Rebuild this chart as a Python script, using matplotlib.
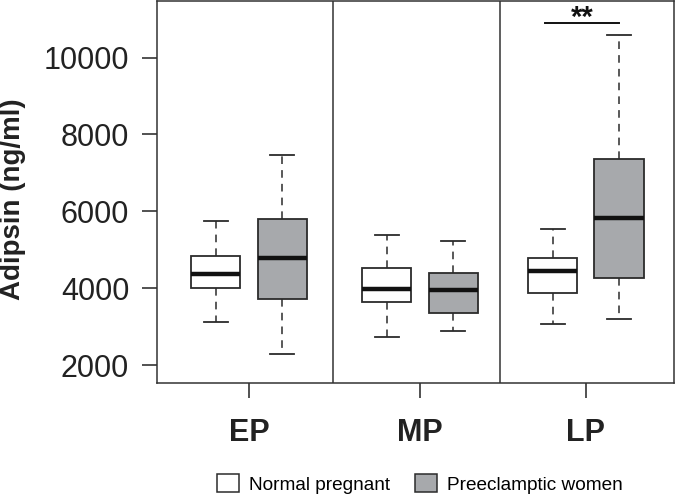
import numpy as np
import matplotlib as mpl
mpl.use('Agg')
from matplotlib import pyplot as plt
from matplotlib.patches import Patch

plt.rcParams['font.family'] = ['Liberation Sans', 'DejaVu Sans']

groups = ['EP', 'MP', 'LP']
group_pos = [1.0, 2.0, 2.97]

# box stats: whislo, q1, med, q3, whishi
normal = [
    [3140, 4004, 4374, 4848, 5754],
    [2743, 3649, 3978, 4537, 5384],
    [3072, 3874, 4460, 4796, 5547],
]
preeclamptic = [
    [2295, 3719, 4796, 5816, 7455],
    [2898, 3372, 3960, 4408, 5228],
    [3201, 4263, 5832, 7359, 10580],
]
series_labels = ['Normal pregnant', 'Preeclamptic women']
series_colors = ['white', '#a7a9ac']
sig_group = 2
sig_text = '**'
sig_y = 10890

def stats( rows , label ) :
    out = []
    for r in rows :
        out.append( { 'whislo' : r[0] , 'q1' : r[1] , 'med' : r[2] , 'q3' : r[3] ,
                      'whishi' : r[4] , 'fliers' : [] , 'label' : label } )
    return out

fig = plt.figure( figsize = ( 6.75 , 4.95 ) , dpi = 100 )
ax = fig.add_axes( [ 157 / 675 , 112 / 495 , 517 / 675 , 382 / 495 ] )

edge = '#2b2b2b'
off = 0.195
for k , ( rows , col ) in enumerate( zip( [ normal , preeclamptic ] , series_colors ) ) :
    pos = [ p + ( -off if k == 0 else off ) for p in group_pos ]
    ax.bxp( stats( rows , series_labels[k] ) , positions = pos , widths = 0.29 ,
            showfliers = False , patch_artist = True ,
            boxprops = dict( facecolor = col , edgecolor = edge , linewidth = 1.3 ) ,
            medianprops = dict( color = '#111111' , linewidth = 3.2 , solid_capstyle = 'butt' ) ,
            whiskerprops = dict( color = edge , linewidth = 1.1 , linestyle = ( 0 , ( 5 , 4 ) ) ) ,
            capprops = dict( color = edge , linewidth = 1.3 ) , capwidths = 0.14 ,
            manage_ticks = False )

# panel dividers
for xd in [ 1.491 , 2.468 ] :
    ax.axvline( xd , color = '#333333' , linewidth = 1.1 )

# significance bar
gx = group_pos[ sig_group ]
ax.plot( [ gx - 0.24 , gx + 0.195 ] , [ sig_y , sig_y ] , color = '#111111' , linewidth = 1.4 )
ax.text( gx - 0.02 , 11020 , sig_text , ha = 'center' , va = 'center' ,
         fontsize = 21 , fontweight = 'bold' , color = '#111111' , clip_on = False )

ax.set_xlim( 0.462 , 3.485 )
ax.set_ylim( 1544 , 11468 )
ax.set_yticks( [ 2000 , 4000 , 6000 , 8000 , 10000 ] )
ax.set_xticks( group_pos )
ax.set_xticklabels( groups , fontsize = 22 , fontweight = 'bold' )
ax.tick_params( axis = 'y' , labelsize = 22 , length = 11 , width = 1.1 , pad = 9 , colors = '#222222' )
ax.tick_params( axis = 'x' , length = 11 , width = 1.1 , pad = 14 , colors = '#222222' )
for s in ax.spines.values() :
    s.set_color( '#333333' )
    s.set_linewidth( 1.1 )

ax.set_ylabel( 'Adipsin (ng/ml)' , fontsize = 20 , fontweight = 'bold' , color = '#222222' )
ax.yaxis.set_label_coords( -0.254 , 0.48 )

handles = [ Patch( facecolor = c , edgecolor = edge , linewidth = 1.1 ) for c in series_colors ]
fig.legend( handles , series_labels , loc = 'center' , bbox_to_anchor = ( 0.622 , 0.022 ) ,
            ncol = 2 , frameon = False , fontsize = 13.7 , handlelength = 1.15 , handleheight = 1.05 ,
            handletextpad = 0.55 , columnspacing = 1.3 , borderpad = 0 )

fig.savefig( 'out.png' , dpi = 100 )
